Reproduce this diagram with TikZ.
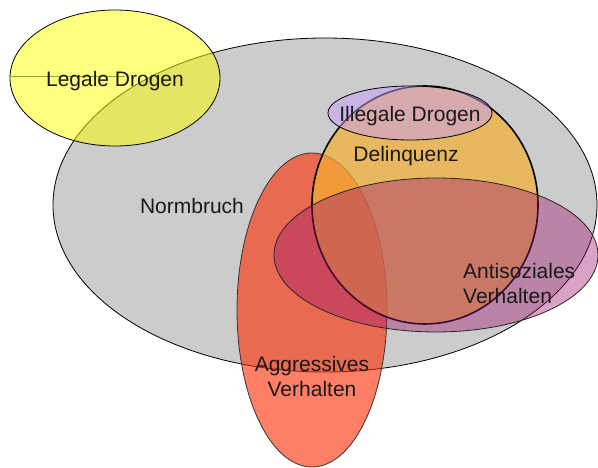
\documentclass[tikz,border=0pt]{standalone}
\usepackage{fontspec}
\setmainfont{Liberation Sans}
\definecolor{grayfill}{RGB}{204,204,204}
\definecolor{yellowfill}{RGB}{255,255,0}
\definecolor{redfill}{RGB}{255,40,0}
\definecolor{orangefill}{RGB}{244,176,52}
\definecolor{lavfill}{RGB}{200,160,250}
\definecolor{purplefill}{RGB}{158,24,110}
\definecolor{strayline}{RGB}{140,165,70}
\begin{document}
\begin{tikzpicture}[x=1pt,y=-1pt,
  setbox/.style={draw=black,line width=0.8pt},
  lbl/.style={inner sep=0pt,font=\fontsize{21}{25}\selectfont,text=black!90}]
\useasboundingbox (0,0) rectangle (598,468);
% Normbruch
\draw[setbox,fill=grayfill] (325,205) ellipse [x radius=272pt,y radius=167pt];
% Legale Drogen
\draw[setbox,fill=yellowfill,fill opacity=0.5] (115,78) ellipse [x radius=105pt,y radius=68pt];
\draw[strayline,line width=1pt] (11,77) -- (125,77);
% Aggressives Verhalten
\draw[setbox,draw=black!80,fill=redfill,fill opacity=0.6] (312,310) ellipse [x radius=75pt,y radius=157pt];
% Delinquenz
\draw[draw=black,line width=1.6pt,fill=orangefill,fill opacity=0.7] (425,205) ellipse [x radius=113pt,y radius=119pt];
% Illegale Drogen
\draw[setbox,fill=lavfill,fill opacity=0.5] (410,113) ellipse [x radius=82pt,y radius=27pt];
% Antisoziales Verhalten
\draw[setbox,draw=black!85,fill=purplefill,fill opacity=0.4] (436,255) ellipse [x radius=162pt,y radius=77pt];
% labels
\node[lbl,anchor=base] (legal) at (115,87) {Legale Drogen};
\node[lbl,anchor=base] (norm) at (192,214) {Normbruch};
\node[lbl,anchor=base] (illegal) at (410,122) {Illegale Drogen};
\node[lbl,anchor=base] (delin) at (406,162) {Delinquenz};
\node[lbl,anchor=west,align=left] (anti) at (463,283) {Antisoziales\\Verhalten};
\node[lbl,align=center] (aggr) at (312,376) {Aggressives\\Verhalten};
\end{tikzpicture}
\end{document}
